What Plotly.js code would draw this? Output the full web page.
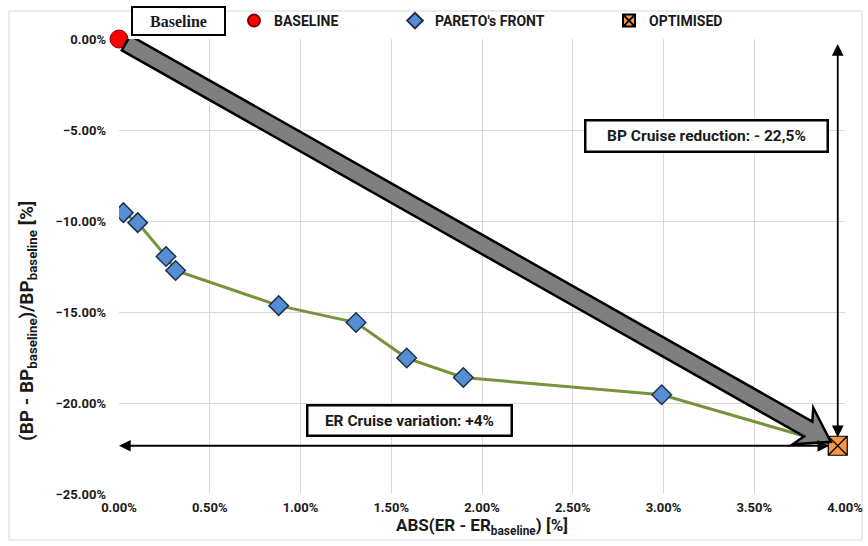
<!DOCTYPE html>
<html>
<head>
<meta charset="utf-8">
<script src="https://cdn.plot.ly/plotly-3.0.1.min.js"></script>
<style>html,body{margin:0;padding:0;background:#fff;}#chart{width:868px;height:546px;}</style>
</head>
<body>
<div id="chart"></div>
<script>
// ---- data (percent units) ----
const baselineX = [0];
const baselineY = [0];
const paretoX = [0.024, 0.103, 0.259, 0.312, 0.88, 1.306, 1.585, 1.897, 2.99];
const paretoY = [-9.54, -10.09, -11.95, -12.72, -14.65, -15.58, -17.53, -18.6, -19.55];
const optX = [3.96];
const optY = [-22.35];
const seriesNames = ["BASELINE", "PARETO's FRONT", "OPTIMISED"];
const boxTexts = ["BP Cruise reduction: - 22,5%", "ER Cruise variation: +4%", "Baseline"];

// ---- geometry ----
const M = {l: 119, r: 23, t: 39, b: 52, autoexpand: false};
const FW = 868, FH = 546;
const W = FW - M.l - M.r, H = FH - M.t - M.b;
const xr = [0, 4], yr = [-25, 0];
const px = x => M.l + (x - xr[0]) / (xr[1] - xr[0]) * W;
const py = y => M.t + (yr[1] - y) / (yr[1] - yr[0]) * H;
const dx = p => xr[0] + (p - M.l) / W * (xr[1] - xr[0]);
const dy = p => yr[1] - (p - M.t) / H * (yr[1] - yr[0]);
const paperX = p => (p - M.l) / W;
const paperY = p => (FH - M.b - p) / H;

// big arrow from baseline to optimised (pixel-space geometry)
const b0 = [px(baselineX[0]), py(baselineY[0])];
const o0 = [px(optX[0]), py(optY[0])];
let ux = o0[0] - b0[0], uy = o0[1] - b0[1];
const len = Math.hypot(ux, uy); ux /= len; uy /= len;
const nx = -uy, ny = ux;
const S = [b0[0] + 8 * ux, b0[1] + 8 * uy];
const E = [o0[0] - 8 * ux, o0[1] - 8 * uy];
const hw = 8.5, HW = 21, hl = 32, notch = 6;
const Bc = [E[0] - hl * ux, E[1] - hl * uy];
const Bn = [Bc[0] + notch * ux, Bc[1] + notch * uy];
const pts = [
  [S[0] + hw * nx, S[1] + hw * ny],
  [Bn[0] + hw * nx, Bn[1] + hw * ny],
  [Bc[0] + HW * nx, Bc[1] + HW * ny],
  E,
  [Bc[0] - HW * nx, Bc[1] - HW * ny],
  [Bn[0] - hw * nx, Bn[1] - hw * ny],
  [S[0] - hw * nx, S[1] - hw * ny]
];
const arrowPath = pts.map((p, i) => (i ? 'L' : 'M') + dx(p[0]).toFixed(5) + ',' + dy(p[1]).toFixed(5)).join(' ') + ' Z';

const FONT = 'Roboto, "Open Sans", sans-serif';
const TXT = '#1a1a1a';

const traces = [
  {x: paretoX.concat(optX), y: paretoY.concat(optY), mode: 'lines', type: 'scatter',
   line: {color: '#77933C', width: 3}, showlegend: false, hoverinfo: 'skip'},
  {x: paretoX, y: paretoY, mode: 'markers', type: 'scatter', name: seriesNames[1], legend: 'legend2',
   marker: {symbol: 'diamond', size: 15, color: '#558ED5', line: {color: '#1F2F4A', width: 1.5}}},
  {x: baselineX, y: baselineY, mode: 'markers', type: 'scatter', name: seriesNames[0], legend: 'legend',
   marker: {symbol: 'circle', size: 18, color: '#FF0000', line: {color: '#7a0000', width: 1}}, cliponaxis: false},
  {x: optX, y: optY, mode: 'markers', type: 'scatter', name: seriesNames[2], legend: 'legend3',
   marker: {symbol: 'square-x', size: 19, color: '#F79646', line: {color: '#000', width: 1.2}}, cliponaxis: false}
];

const legendBase = {orientation: 'h', xanchor: 'left', yanchor: 'middle', y: paperY(21),
  bgcolor: 'rgba(0,0,0,0)', itemsizing: 'constant', font: {family: FONT, size: 14, color: TXT, weight: 'bold'}};

const layout = {
  width: FW, height: FH,
  margin: M,
  paper_bgcolor: '#fff', plot_bgcolor: '#fff',
  font: {family: FONT, color: TXT},
  showlegend: true,
  legend: Object.assign({}, legendBase, {x: paperX(234)}),
  legend2: Object.assign({}, legendBase, {x: paperX(395)}),
  legend3: Object.assign({}, legendBase, {x: paperX(609)}),
  xaxis: {range: xr, dtick: 0.5, tick0: 0, ticksuffix: '%', tickformat: '.2f',
    showgrid: true, gridcolor: '#d9d9d9', gridwidth: 1, zeroline: false, showline: false,
    ticks: '', ticklabelstandoff: 4, automargin: false,
    tickfont: {family: FONT, size: 13, color: TXT, weight: 'bold'},
    title: {text: 'ABS(ER - ER<sub>baseline</sub>) [%]', font: {family: FONT, size: 17, color: TXT, weight: 'bold'}, standoff: 4}},
  yaxis: {range: yr, dtick: 5, tick0: 0, ticksuffix: '%', tickformat: '.2f',
    showgrid: true, gridcolor: '#d9d9d9', gridwidth: 1, zeroline: false, showline: false,
    ticks: '', ticklabelstandoff: 12, automargin: false,
    tickfont: {family: FONT, size: 13, color: TXT, weight: 'bold'}},
  shapes: [
    {type: 'rect', xref: 'paper', yref: 'paper', x0: paperX(9), x1: paperX(862), y0: paperY(540), y1: paperY(11),
     line: {color: '#d9d9d9', width: 1}, layer: 'below'},
    {type: 'path', xref: 'x', yref: 'y', path: arrowPath, fillcolor: '#7f7f7f', line: {color: '#000', width: 2.5}, layer: 'above'}
  ],
  annotations: [
    // vertical double arrow
    {x: optX[0], y: 0, ax: optX[0], ay: optY[0], xref: 'x', yref: 'y', axref: 'x', ayref: 'y', text: '',
     showarrow: true, arrowside: 'end+start', arrowhead: 2, startarrowhead: 2, arrowsize: 1.3, startarrowsize: 1.3,
     arrowwidth: 1.8, arrowcolor: '#000', standoff: 5, startstandoff: 7},
    // horizontal double arrow
    {x: 0, y: optY[0], ax: optX[0], ay: optY[0], xref: 'x', yref: 'y', axref: 'x', ayref: 'y', text: '',
     showarrow: true, arrowside: 'end+start', arrowhead: 2, startarrowhead: 2, arrowsize: 1.3, startarrowsize: 1.3,
     arrowwidth: 1.8, arrowcolor: '#000', standoff: 0, startstandoff: 7},
    {x: dx(706), y: dy(136), xref: 'x', yref: 'y', xanchor: 'center', yanchor: 'middle', text: boxTexts[0], showarrow: false,
     font: {family: FONT, size: 15.5, color: TXT, weight: 'bold'}, bgcolor: '#fff', bordercolor: '#000', borderwidth: 2.5,
     borderpad: 2, width: 236, height: 25},
    {x: dx(409.5), y: dy(420.5), xref: 'x', yref: 'y', xanchor: 'center', yanchor: 'middle', text: boxTexts[1], showarrow: false,
     font: {family: FONT, size: 15.5, color: TXT, weight: 'bold'}, bgcolor: '#fff', bordercolor: '#000', borderwidth: 2.5,
     borderpad: 2, width: 198, height: 24},
    {x: paperX(178), y: paperY(21.5), xref: 'paper', yref: 'paper', xanchor: 'center', yanchor: 'middle', text: boxTexts[2], showarrow: false,
     font: {family: '"Liberation Serif", serif', size: 16, color: TXT, weight: 'bold'}, bgcolor: '#fff', bordercolor: '#000', borderwidth: 2,
     borderpad: 2, width: 87, height: 22},
    {x: paperX(27), y: paperY(321), xref: 'paper', yref: 'paper', xanchor: 'center', yanchor: 'middle', textangle: -90, showarrow: false,
     text: '(BP - BP<sub>baseline</sub>)/BP<sub>baseline</sub> [%]',
     font: {family: FONT, size: 19, color: TXT, weight: 'bold'}}
  ]
};

Plotly.newPlot('chart', traces, layout, {displayModeBar: false, staticPlot: true});
</script>
</body>
</html>
